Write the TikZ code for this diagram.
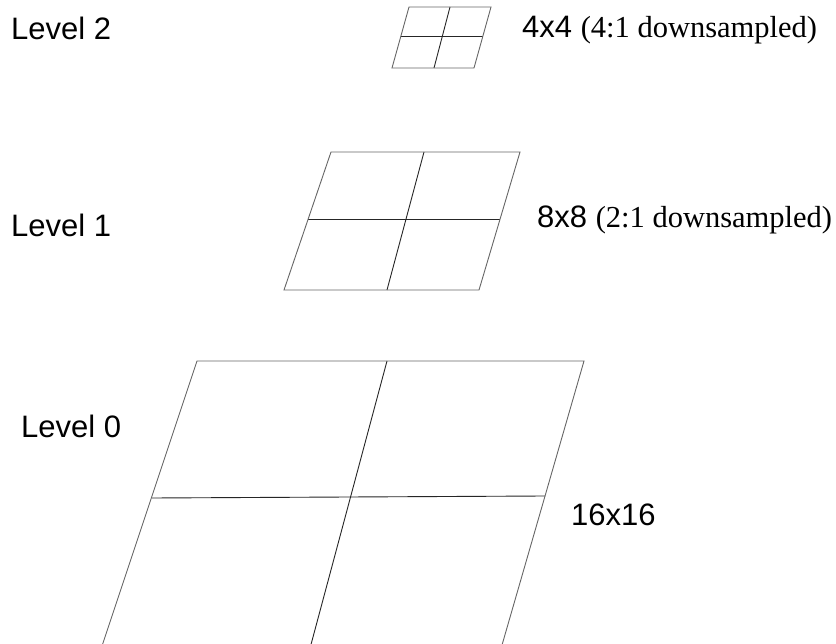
\documentclass[tikz,border=0pt]{standalone}
\usepackage{fontspec}
\setmainfont{Liberation Serif}
\setsansfont{Liberation Sans}
\tikzset{
  frame/.style={line width=0.9pt, draw=black!60},
  split/.style={line width=0.9pt, draw=black!85},
  lbl/.style={anchor=base west, inner sep=0pt, font=\sffamily\fontsize{31}{37}\selectfont}
}
\newcommand{\ratio}[1]{{\rmfamily\fontsize{30.5}{37}\selectfont (#1 downsampled)}}
\begin{document}
\begin{tikzpicture}[x=1pt, y=-1pt]
        \clip (0,0) rectangle (836,644);
        \fill[white] (0,0) rectangle (836,644);

        % Livello 2 (4x4)
        \coordinate (tl2) at (409,7);   \coordinate (tr2) at (491,7);
        \coordinate (br2) at (474,68);  \coordinate (bl2) at (392,68);
        \draw[split] (401,36) -- (483,36);
        \draw[split] (450,7) -- (434,68);
        \draw[frame] (tl2) -- (tr2) -- (br2) -- (bl2) -- cycle;

        % Livello 1 (8x8)
        \coordinate (tl1) at (331,152); \coordinate (tr1) at (520,152);
        \coordinate (br1) at (479,290); \coordinate (bl1) at (284,290);
        \draw[split] (308,219) -- (500,219);
        \draw[split] (424,152) -- (387,290);
        \draw[frame] (tl1) -- (tr1) -- (br1) -- (bl1) -- cycle;

        % Livello 0 (16x16), tagliato in basso
        \coordinate (tl0) at (197,361); \coordinate (tr0) at (584,361);
        \coordinate (br0) at (500,652); \coordinate (bl0) at (100,652);
        \draw[split] (152,498) -- (545,496);
        \draw[split] (387,361) -- (309,652);
        \draw[frame] (bl0) -- (tl0) -- (tr0) -- (br0);

        % Etichette
        \node[lbl] (lvltwo) at (11,40) {Level 2};
        \node[lbl] (lvlone) at (11,237) {Level 1};
        \node[lbl] (lvlzero) at (21,438) {Level 0};
        \node[lbl] (sztwo) at (522,38) {4x4 \ratio{4:1}};
        \node[lbl] (szone) at (537,228) {8x8 \ratio{2:1}};
        \node[lbl] (szzero) at (571,525) {16x16};
\end{tikzpicture}
\end{document}
